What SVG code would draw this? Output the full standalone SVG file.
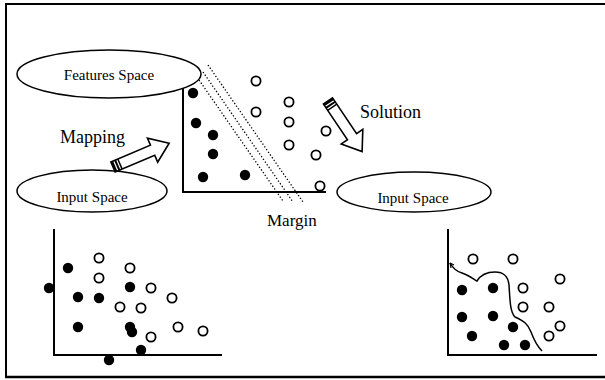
<svg xmlns="http://www.w3.org/2000/svg" width="605" height="380" viewBox="0 0 605 380">
<style>
text{font-family:"Liberation Serif","Times New Roman",serif;fill:#000}
.lbl{font-size:15px}
.ell{fill:#fff;stroke:#000;stroke-width:1.5}
.ax{stroke:#000;stroke-width:2;fill:none}
.f{fill:#000}
.o{fill:#fff;stroke:#000;stroke-width:1.8}
.dot{stroke:#000;stroke-width:1.3;stroke-dasharray:1.3 2;fill:none}
.arr{fill:#fff;stroke:#000;stroke-width:1.6;stroke-linejoin:miter}
</style>
<defs>
<g id="blockArrow">
<path class="arr" d="M0,-5.5 L43,-5.5 L43,-13 L61,0 L43,13 L43,5.5 L0,5.5 Z"/>
<rect x="0" y="-5.5" width="2.4" height="11" fill="#000"/>
<rect x="3.6" y="-5.5" width="2" height="11" fill="#000"/>
<rect x="6.8" y="-5.5" width="1.5" height="11" fill="#000"/>
</g>
</defs>
<rect width="605" height="380" fill="#fff"/>
<g id="frame">
<path d="M6,377 L6,4 L605,4" fill="none" stroke="#000" stroke-width="2"/>
<line x1="5" y1="377" x2="605" y2="377" stroke="#000" stroke-width="2.5"/>
</g>

<g id="feature-space-plot">
<line class="dot" x1="208" y1="65" x2="303" y2="202"/>
<line class="dot" x1="203" y1="72" x2="293" y2="202"/>
<line class="dot" x1="199" y1="80" x2="283" y2="201"/>
<path class="ax" d="M183,88 L183,192 L326,192"/>
<circle class="f" cx="193" cy="93" r="5.2"/>
<circle class="f" cx="196" cy="123" r="5.2"/>
<circle class="f" cx="213" cy="135" r="5.2"/>
<circle class="f" cx="213" cy="154" r="5.2"/>
<circle class="f" cx="203" cy="177" r="5.2"/>
<circle class="f" cx="245" cy="175" r="5.2"/>
<circle class="o" cx="256" cy="81" r="4.6"/>
<circle class="o" cx="256" cy="112" r="4.6"/>
<circle class="o" cx="289" cy="102" r="4.6"/>
<circle class="o" cx="289" cy="122" r="4.6"/>
<circle class="o" cx="289" cy="145" r="4.6"/>
<circle class="o" cx="326" cy="131" r="4.6"/>
<circle class="o" cx="316" cy="155" r="4.6"/>
<circle class="o" cx="320" cy="186" r="4.6"/>
<text x="267" y="226" font-family="Liberation Serif, Times New Roman, serif" font-size="17">Margin</text>
</g>

<g id="features-space">
<ellipse class="ell" cx="109" cy="74" rx="92" ry="24"/>
<text class="lbl" x="109" y="80" text-anchor="middle" font-family="Liberation Serif, Times New Roman, serif">Features Space</text>
</g>

<g id="input-space-left">
<ellipse class="ell" cx="92" cy="191" rx="75" ry="21"/>
<text class="lbl" x="92" y="201.5" text-anchor="middle" font-family="Liberation Serif, Times New Roman, serif">Input Space</text>
</g>

<g id="input-space-right">
<ellipse class="ell" cx="414" cy="192" rx="77" ry="20"/>
<text class="lbl" x="413" y="202.5" text-anchor="middle" font-family="Liberation Serif, Times New Roman, serif">Input Space</text>
</g>

<g id="connectors">
<use href="#blockArrow" transform="translate(113,167) rotate(-23)"/>
<text x="60" y="143" font-size="18" font-family="Liberation Serif, Times New Roman, serif">Mapping</text>
<use href="#blockArrow" transform="translate(328,101) rotate(56)"/>
<text x="360" y="118" font-size="18" font-family="Liberation Serif, Times New Roman, serif">Solution</text>
</g>

<g id="input-plot-left">
<path class="ax" d="M54,229 L54,355 L222,355"/>
<circle class="f" cx="68" cy="268" r="5.2"/>
<circle class="f" cx="49" cy="288" r="5.2"/>
<circle class="f" cx="78" cy="297" r="5.2"/>
<circle class="f" cx="99" cy="298" r="5.2"/>
<circle class="f" cx="130" cy="287" r="5.2"/>
<circle class="f" cx="78" cy="327" r="5.2"/>
<circle class="f" cx="130" cy="327" r="5.2"/>
<circle class="f" cx="132" cy="332" r="5.2"/>
<circle class="f" cx="141" cy="350" r="5.2"/>
<circle class="f" cx="109" cy="360" r="5.2"/>
<circle class="o" cx="99" cy="258" r="4.6"/>
<circle class="o" cx="99" cy="278" r="4.6"/>
<circle class="o" cx="130" cy="268" r="4.6"/>
<circle class="o" cx="151" cy="288" r="4.6"/>
<circle class="o" cx="172" cy="298" r="4.6"/>
<circle class="o" cx="120" cy="307" r="4.6"/>
<circle class="o" cx="141" cy="308" r="4.6"/>
<circle class="o" cx="178" cy="327" r="4.6"/>
<circle class="o" cx="203" cy="331" r="4.6"/>
<circle class="o" cx="151" cy="337" r="4.6"/>
</g>

<g id="input-plot-right">
<path class="ax" d="M448,229 L448,355 L597,355"/>
<path d="M450,263 C454,270 458,272 462,273 C468,275 472,278 477,281 C480,276 486,272 495,272 C504,272 508,276 509,285 C510,300 510,312 515,317 C524,321 528,324 531,332 C534,340 537,346 542,351" fill="none" stroke="#000" stroke-width="1.5"/>
<path d="M450,263 L451,268 M450,263 L454,265" fill="none" stroke="#000" stroke-width="1.2"/>
<circle class="f" cx="462" cy="290" r="5.2"/>
<circle class="f" cx="493" cy="288" r="5.2"/>
<circle class="f" cx="462" cy="317" r="5.2"/>
<circle class="f" cx="493" cy="316" r="5.2"/>
<circle class="f" cx="513" cy="327" r="5.2"/>
<circle class="f" cx="472" cy="336" r="5.2"/>
<circle class="f" cx="504" cy="345" r="5.2"/>
<circle class="f" cx="525" cy="345" r="5.2"/>
<circle class="o" cx="473" cy="259" r="4.6"/>
<circle class="o" cx="513" cy="259" r="4.6"/>
<circle class="o" cx="560" cy="279" r="4.6"/>
<circle class="o" cx="523" cy="288" r="4.6"/>
<circle class="o" cx="523" cy="307" r="4.6"/>
<circle class="o" cx="549" cy="307" r="4.6"/>
<circle class="o" cx="560" cy="326" r="4.6"/>
<circle class="o" cx="549" cy="336" r="4.6"/>
</g>
</svg>
